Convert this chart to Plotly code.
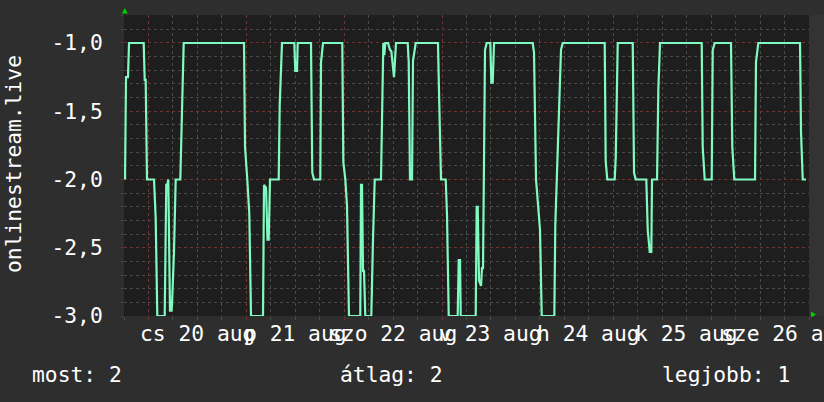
import plotly.graph_objects as go
import pandas as pd

# ---- data ----
start_time = "2020-08-19 18:00"
hours = [0.25, 0.49, 0.98, 1.23, 4.83, 5.08, 5.32, 5.64, 7.36, 7.77, 8.17, 9.98, 10.37, 10.62,
         10.87, 11.28, 11.65, 11.77, 12.26, 12.68, 13.81, 14.05, 14.64, 29.43, 29.68, 30.24,
         30.73, 31.15, 34.09, 34.34, 34.83, 35.19, 35.49, 35.81, 37.94, 38.19, 38.75, 41.77,
         42.01, 42.43, 42.60, 45.86, 46.18, 46.60, 48.14, 48.32, 48.81, 53.54, 53.79, 54.28,
         54.69, 55.18, 57.95, 58.13, 58.37, 58.62, 58.86, 59.18, 60.65, 61.07, 61.49, 63.03,
         63.28, 63.60, 63.84, 64.09, 64.75, 65.24, 65.56, 66.22, 66.71, 69.58, 69.83, 70.14,
         70.64, 70.88, 71.54, 77.01, 77.26, 77.75, 78.90, 79.22, 79.64, 81.84, 82.09, 82.41,
         82.58, 86.26, 86.50, 86.75, 87.07, 87.56, 87.80, 88.05, 88.54, 88.96, 89.84, 90.09,
         90.43, 90.75, 100.24, 100.56, 101.05, 102.03, 102.45, 105.54, 105.78, 106.12, 107.18,
         107.59, 117.90, 118.14, 118.53, 120.35, 120.60, 121.09, 124.77, 125.09, 125.50,
         128.10, 128.45, 128.94, 129.33, 129.50, 130.73, 131.05, 131.46, 141.69, 141.93,
         142.42, 144.14, 144.39, 144.88, 148.87, 149.19, 149.68, 154.76, 155.00, 155.57,
         165.80, 166.04, 166.46, 167.27]
values = [-2.0, -1.25, -1.25, -1.0, -1.0, -1.27, -1.27, -2.0, -2.0, -2.28, -3.0, -3.0, -2.04, -2.04,
          -2.0, -2.96, -2.96, -2.92, -2.53, -2.0, -2.0, -1.74, -1.0, -1.0, -1.76, -2.0,
          -2.25, -3.0, -3.0, -2.04, -2.06, -2.44, -2.44, -2.0, -2.0, -1.45, -1.0, -1.0,
          -1.205, -1.205, -1.0, -1.0, -1.95, -2.0, -2.0, -1.14, -1.0, -1.0, -1.87, -2.0,
          -2.19, -3.0, -3.0, -2.04, -2.04, -2.67, -2.67, -3.0, -3.0, -2.44, -2.0, -2.0,
          -1.445, -1.0, -1.09, -1.0, -1.0, -1.05, -1.06, -1.25, -1.0, -1.0, -1.14, -2.0,
          -2.0, -1.13, -1.0, -1.0, -1.36, -2.0, -2.0, -2.26, -3.0, -3.0, -2.59, -2.59,
          -3.0, -3.0, -2.2, -2.2, -2.74, -2.78, -2.65, -2.65, -1.05, -1.0, -1.0, -1.29,
          -1.29, -1.0, -1.0, -1.07, -2.0, -2.37, -3.0, -3.0, -2.33, -2.0, -1.05,
          -1.0, -1.0, -1.866, -2.0, -2.0, -1.84, -1.0, -1.0, -1.95, -2.0,
          -2.0, -2.37, -2.53, -2.53, -2.0, -2.0, -1.34, -1.0, -1.0, -1.76,
          -2.0, -2.0, -1.05, -1.0, -1.0, -1.76, -2.0, -2.0, -1.14, -1.0,
          -1.0, -1.65, -2.0, -2.0]

y_tick_values = [-3.0, -2.5, -2.0, -1.5, -1.0]
y_tick_labels = ["-3,0", "-2,5", "-2,0", "-1,5", "-1,0"]
midnights = ["2020-08-20", "2020-08-21", "2020-08-22", "2020-08-23",
             "2020-08-24", "2020-08-25", "2020-08-26"]
day_label_times = ["2020-08-20 12:00", "2020-08-21 12:00", "2020-08-22 12:00", "2020-08-23 12:00",
                   "2020-08-24 12:00", "2020-08-25 12:00", "2020-08-26 12:00"]
day_labels = ["cs 20 aug", "p 21 aug", "szo 22 aug", "v 23 aug",
              "h 24 aug", "k 25 aug", "sze 26 aug"]
series_name = "onlinestream.live"
legend_items = ["most: 2", "átlag: 2", "legjobb: 1"]

# ---- figure ----
base = pd.Timestamp(start_time)
times = [base + pd.Timedelta(hours=h) for h in hours]
x_end = base + pd.Timedelta(hours=168)

FONT = "DejaVu Sans Mono"
FS = 21.3
W, H = 824, 402
ML, MR, MT, MB = 124, 15, 15, 86
PW, PH = W - ML - MR, H - MT - MB


def px(x):
    return (x - ML) / PW


def py(y):
    return (H - MB - y) / PH


fig = go.Figure()
fig.add_trace(go.Scatter(x=times, y=values, mode="lines",
                         line=dict(color="#80fac0", width=2.2), hoverinfo="skip",
                         showlegend=False))

major_grid = "#6e3434"
minor_grid = "#4a4a4a"

fig.update_layout(
    width=W, height=H,
    margin=dict(l=ML, r=MR, t=MT, b=MB),
    paper_bgcolor="#2e2e2e", plot_bgcolor="#1e1e1e",
    font=dict(family=FONT, size=FS, color="#ffffff"),
    showlegend=False,
    xaxis=dict(type="date", range=[base, x_end], tickmode="array", tickvals=midnights,
               showticklabels=False, showgrid=True, gridcolor=major_grid, griddash="dot",
               gridwidth=1, zeroline=False, showline=False,
               ticks="outside", ticklen=3, tickcolor=major_grid,
               minor=dict(dtick=6 * 3600 * 1000, showgrid=True, gridcolor=minor_grid,
                          griddash="dot", ticks="outside", ticklen=3, tickcolor=minor_grid)),
    yaxis=dict(range=[-3.0, -0.795], tickmode="array", tickvals=y_tick_values,
               ticktext=y_tick_labels, showgrid=True, gridcolor=major_grid, griddash="dot",
               zeroline=False, showline=False, ticks="outside", ticklen=2,
               tickcolor=major_grid, ticklabelstandoff=14,
               tickfont=dict(family=FONT, size=FS, color="#ffffff"),
               minor=dict(tick0=0, dtick=0.1, showgrid=True, gridcolor=minor_grid,
                          griddash="dot", ticks="outside", ticklen=2, tickcolor=minor_grid)),
)

annotations = []
for t, lab in zip(day_label_times, day_labels):
    annotations.append(dict(x=t, xref="x", y=py(333), yref="paper", text=lab,
                            showarrow=False, xanchor="center", yanchor="middle",
                            font=dict(family=FONT, size=FS, color="#ffffff")))
annotations.append(dict(x=px(13), y=py(164), xref="paper", yref="paper", text=series_name,
                        textangle=-90, showarrow=False, xanchor="center", yanchor="middle",
                        font=dict(family=FONT, size=FS, color="#ffffff")))
legend_x = [30, 338, 660]
for lx, txt in zip(legend_x, legend_items):
    annotations.append(dict(x=px(lx), y=py(374), xref="paper", yref="paper", text=txt,
                            showarrow=False, xanchor="left", yanchor="middle",
                            font=dict(family=FONT, size=FS, color="#ffffff")))
fig.update_layout(annotations=annotations)

shapes = [
    # lighter strip at right of the canvas
    dict(type="rect", xref="paper", yref="paper", x0=1.0, x1=1.03, y0=0, y1=1,
         fillcolor="#333333", line=dict(width=0), layer="below"),
    # axis arrows
    dict(type="path", xref="paper", yref="paper",
         path=f"M {px(121.8)} {py(13.5)} L {px(127.8)} {py(13.5)} L {px(124.8)} {py(8)} Z",
         fillcolor="#00d000", line=dict(width=0)),
    dict(type="path", xref="paper", yref="paper",
         path=f"M {px(811)} {py(311.5)} L {px(811)} {py(317.5)} L {px(816)} {py(314.5)} Z",
         fillcolor="#00d000", line=dict(width=0)),
]
fig.update_layout(shapes=shapes)

fig.write_html("out.html", config={"displayModeBar": False},
               post_script="document.body.style.margin='0';document.body.style.overflow='hidden';")
